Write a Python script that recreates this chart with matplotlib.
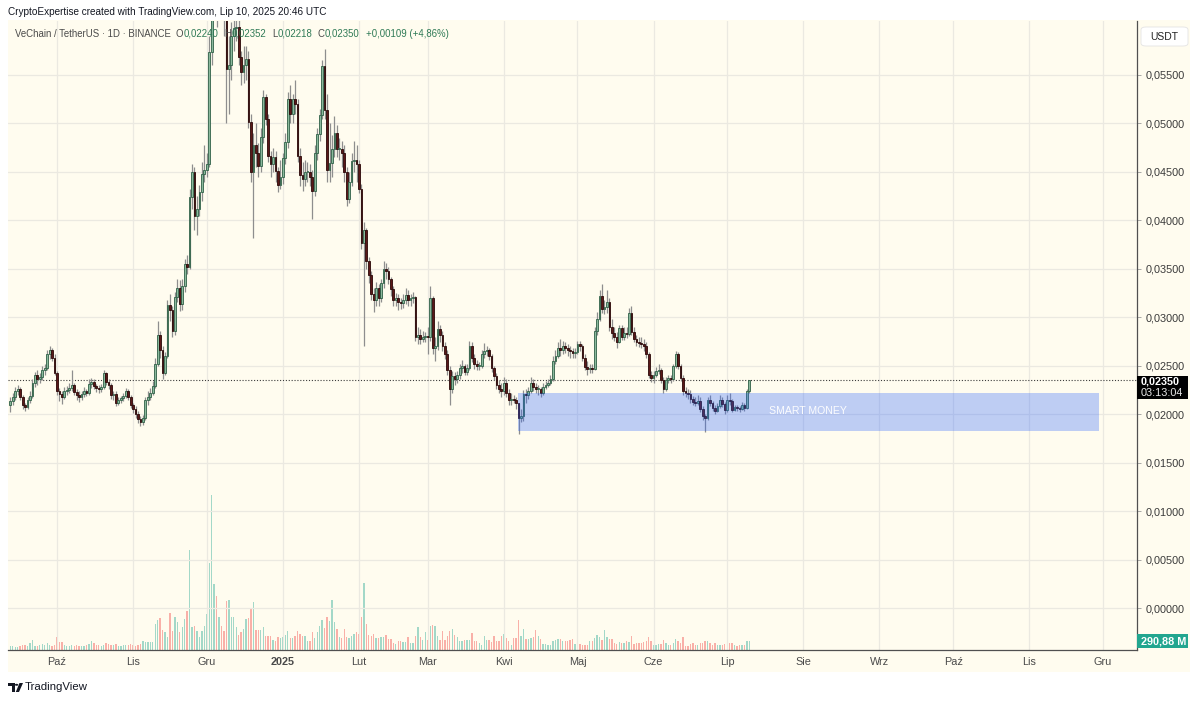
import datetime as dt
import matplotlib
matplotlib.use("Agg")
import matplotlib.pyplot as plt
import matplotlib.dates as mdates
from matplotlib.patches import Rectangle, FancyBboxPatch, Polygon, Circle

plt.rcParams['font.family'] = ['Liberation Sans', 'DejaVu Sans']

W, H = 1200, 701

# ---------------- data ----------------
start_date = dt.date(2024, 9, 12)
first_open = 0.0210

closes = [
    # Sep 12-30
    0.0214, 0.0218, 0.0224, 0.0226, 0.0218, 0.0209, 0.0207, 0.0215, 0.0219, 0.0232, 0.0240, 0.0236, 0.0238, 0.0246, 0.0248, 0.0262, 0.0266, 0.0258, 0.0243,
    # Oct
    0.0224, 0.0221, 0.0218, 0.0224, 0.0225, 0.0227, 0.0230, 0.0223, 0.0220, 0.0218, 0.0221, 0.0224, 0.0222, 0.0231, 0.0233, 0.0229, 0.0227, 0.0226, 0.0228, 0.0242, 0.0233, 0.0230, 0.0220, 0.0221, 0.0212, 0.0215, 0.0217, 0.0219, 0.0224, 0.0218, 0.0209,
    # Nov
    0.0205, 0.0200, 0.0195, 0.0192, 0.0196, 0.0215, 0.0218, 0.0222, 0.0229, 0.0252, 0.0282, 0.0266, 0.0243, 0.0260, 0.0313, 0.0308, 0.0286, 0.0321, 0.0330, 0.0314, 0.0332, 0.0355, 0.0352, 0.0424, 0.0450, 0.0404, 0.0412, 0.0429, 0.0448, 0.0452,
    # Dec
    0.0458, 0.0574, 0.0650, 0.0690, 0.0640, 0.0660, 0.0645, 0.0625, 0.0556, 0.0560, 0.0590, 0.0598, 0.0600, 0.0569, 0.0553, 0.0560, 0.0566, 0.0502, 0.0450, 0.0478, 0.0470, 0.0456, 0.0486, 0.0527, 0.0505, 0.0466, 0.0458, 0.0465, 0.0451, 0.0437, 0.0445,
    # Jan
    0.0464, 0.0481, 0.0525, 0.0510, 0.0525, 0.0520, 0.0466, 0.0447, 0.0443, 0.0450, 0.0450, 0.0445, 0.0430, 0.0470, 0.0489, 0.0509, 0.0559, 0.0514, 0.0452, 0.0459, 0.0474, 0.0490, 0.0474, 0.0474, 0.0470, 0.0450, 0.0422, 0.0440, 0.0461, 0.0462, 0.0458,
    # Feb
    0.0432, 0.0377, 0.0390, 0.0358, 0.0344, 0.0324, 0.0318, 0.0330, 0.0320, 0.0335, 0.0350, 0.0348, 0.0339, 0.0329, 0.0318, 0.0320, 0.0316, 0.0315, 0.0318, 0.0323, 0.0318, 0.0320, 0.0321, 0.0280, 0.0282, 0.0278, 0.0280, 0.0281,
    # Mar
    0.0280, 0.0320, 0.0268, 0.0270, 0.0288, 0.0282, 0.0270, 0.0262, 0.0246, 0.0226, 0.0239, 0.0236, 0.0240, 0.0248, 0.0250, 0.0244, 0.0248, 0.0270, 0.0258, 0.0252, 0.0250, 0.0250, 0.0262, 0.0265, 0.0266, 0.0260, 0.0248, 0.0239, 0.0230, 0.0226, 0.0224,
    # Apr
    0.0232, 0.0222, 0.0215, 0.0216, 0.0215, 0.0212, 0.0196, 0.0198, 0.0221, 0.0220, 0.0224, 0.0232, 0.0228, 0.0226, 0.0226, 0.0222, 0.0228, 0.0230, 0.0232, 0.0236, 0.0255, 0.0260, 0.0268, 0.0266, 0.0270, 0.0268, 0.0266, 0.0265, 0.0263, 0.0264,
    # May
    0.0272, 0.0270, 0.0258, 0.0249, 0.0247, 0.0248, 0.0247, 0.0286, 0.0298, 0.0322, 0.0309, 0.0311, 0.0316, 0.0290, 0.0284, 0.0280, 0.0275, 0.0289, 0.0280, 0.0284, 0.0283, 0.0304, 0.0285, 0.0278, 0.0274, 0.0273, 0.0272, 0.0270, 0.0262, 0.0240, 0.0237,
    # Jun
    0.0240, 0.0245, 0.0246, 0.0235, 0.0226, 0.0235, 0.0237, 0.0236, 0.0250, 0.0262, 0.0250, 0.0237, 0.0224, 0.0222, 0.0221, 0.0216, 0.0213, 0.0212, 0.0214, 0.0205, 0.0198, 0.0196, 0.0215, 0.0212, 0.0206, 0.0203, 0.0208, 0.0215, 0.0211, 0.0204,
    # Jul 1-10
    0.0215, 0.0214, 0.0204, 0.0207, 0.0206, 0.0205, 0.0209, 0.0206, 0.02241, 0.02350,
]

highs = [
    0.0218, 0.0222, 0.0228, 0.0230, 0.0228, 0.0220, 0.0212, 0.0218, 0.0224, 0.0236, 0.0244, 0.0246, 0.0242, 0.0250, 0.0252, 0.0266, 0.0270, 0.0268, 0.0262,
    0.0245, 0.0227, 0.0224, 0.0228, 0.0229, 0.0232, 0.0246, 0.0232, 0.0226, 0.0224, 0.0224, 0.0228, 0.0226, 0.0236, 0.0237, 0.0236, 0.0231, 0.0230, 0.0231, 0.0246, 0.0244, 0.0236, 0.0232, 0.0224, 0.0224, 0.0218, 0.0219, 0.0222, 0.0227, 0.0226, 0.0220,
    0.0212, 0.0208, 0.0203, 0.0198, 0.0199, 0.0218, 0.0224, 0.0227, 0.0234, 0.0258, 0.0296, 0.0286, 0.0270, 0.0264, 0.0318, 0.0324, 0.0312, 0.0326, 0.0340, 0.0338, 0.0340, 0.0360, 0.0364, 0.0432, 0.0458, 0.0455, 0.0425, 0.0436, 0.0460, 0.0478,
    0.0470, 0.0590, 0.0790, 0.0720, 0.0700, 0.0690, 0.0670, 0.0660, 0.0630, 0.0590, 0.0605, 0.0610, 0.0625, 0.0612, 0.0575, 0.0580, 0.0580, 0.0575, 0.0510, 0.0490, 0.0500, 0.0480, 0.0495, 0.0535, 0.0530, 0.0510, 0.0472, 0.0475, 0.0472, 0.0455, 0.0462,
    0.0470, 0.0490, 0.0532, 0.0540, 0.0530, 0.0545, 0.0525, 0.0475, 0.0460, 0.0462, 0.0460, 0.0458, 0.0452, 0.0478, 0.0495, 0.0515, 0.0565, 0.0577, 0.0530, 0.0500, 0.0488, 0.0508, 0.0498, 0.0485, 0.0482, 0.0478, 0.0455, 0.0450, 0.0470, 0.0482, 0.0478,
    0.0462, 0.0438, 0.0398, 0.0392, 0.0362, 0.0348, 0.0330, 0.0336, 0.0334, 0.0340, 0.0358, 0.0356, 0.0352, 0.0342, 0.0332, 0.0325, 0.0324, 0.0320, 0.0324, 0.0330, 0.0328, 0.0324, 0.0326, 0.0322, 0.0290, 0.0288, 0.0286, 0.0285,
    0.0290, 0.0332, 0.0322, 0.0280, 0.0296, 0.0292, 0.0286, 0.0275, 0.0266, 0.0250, 0.0245, 0.0244, 0.0245, 0.0252, 0.0256, 0.0252, 0.0252, 0.0276, 0.0275, 0.0262, 0.0256, 0.0254, 0.0266, 0.0273, 0.0270, 0.0268, 0.0262, 0.0250, 0.0242, 0.0235, 0.0232,
    0.0238, 0.0236, 0.0226, 0.0222, 0.0220, 0.0218, 0.0212, 0.0205, 0.0225, 0.0226, 0.0228, 0.0238, 0.0236, 0.0232, 0.0230, 0.0228, 0.0232, 0.0234, 0.0236, 0.0240, 0.0260, 0.0266, 0.0275, 0.0278, 0.0276, 0.0275, 0.0272, 0.0270, 0.0268, 0.0268,
    0.0276, 0.0276, 0.0272, 0.0262, 0.0255, 0.0252, 0.0252, 0.0290, 0.0305, 0.0328, 0.0334, 0.0318, 0.0328, 0.0320, 0.0298, 0.0290, 0.0285, 0.0292, 0.0292, 0.0290, 0.0290, 0.0310, 0.0312, 0.0290, 0.0282, 0.0280, 0.0280, 0.0278, 0.0275, 0.0264, 0.0245,
    0.0245, 0.0249, 0.0252, 0.0248, 0.0238, 0.0238, 0.0240, 0.0240, 0.0252, 0.0265, 0.0264, 0.0252, 0.0240, 0.0228, 0.0226, 0.0225, 0.0219, 0.0218, 0.0220, 0.0218, 0.0208, 0.0200, 0.0218, 0.0220, 0.0214, 0.0210, 0.0212, 0.0220, 0.0218, 0.0213,
    0.0220, 0.0222, 0.0216, 0.0210, 0.0210, 0.0208, 0.0213, 0.0212, 0.0226, 0.02352,
]

lows = [
    0.0202, 0.0210, 0.0215, 0.0220, 0.0215, 0.0205, 0.0203, 0.0205, 0.0212, 0.0217, 0.0228, 0.0230, 0.0232, 0.0235, 0.0240, 0.0246, 0.0257, 0.0255, 0.0240,
    0.0220, 0.0214, 0.0211, 0.0216, 0.0220, 0.0222, 0.0224, 0.0220, 0.0215, 0.0213, 0.0215, 0.0218, 0.0219, 0.0220, 0.0227, 0.0226, 0.0223, 0.0222, 0.0223, 0.0226, 0.0230, 0.0226, 0.0216, 0.0215, 0.0208, 0.0209, 0.0212, 0.0214, 0.0217, 0.0215, 0.0206,
    0.0201, 0.0196, 0.0191, 0.0188, 0.0189, 0.0194, 0.0210, 0.0215, 0.0220, 0.0227, 0.0250, 0.0258, 0.0236, 0.0240, 0.0258, 0.0296, 0.0280, 0.0282, 0.0316, 0.0306, 0.0308, 0.0326, 0.0345, 0.0350, 0.0412, 0.0390, 0.0385, 0.0405, 0.0420, 0.0440,
    0.0445, 0.0455, 0.0560, 0.0610, 0.0600, 0.0610, 0.0620, 0.0590, 0.0500, 0.0510, 0.0545, 0.0575, 0.0585, 0.0560, 0.0540, 0.0542, 0.0545, 0.0495, 0.0440, 0.0382, 0.0455, 0.0445, 0.0450, 0.0480, 0.0498, 0.0460, 0.0445, 0.0450, 0.0440, 0.0429, 0.0432,
    0.0438, 0.0458, 0.0475, 0.0500, 0.0500, 0.0510, 0.0460, 0.0435, 0.0430, 0.0435, 0.0440, 0.0435, 0.0401, 0.0425, 0.0462, 0.0482, 0.0505, 0.0505, 0.0440, 0.0440, 0.0445, 0.0465, 0.0465, 0.0462, 0.0455, 0.0440, 0.0415, 0.0418, 0.0435, 0.0450, 0.0440,
    0.0428, 0.0370, 0.0270, 0.0350, 0.0335, 0.0318, 0.0305, 0.0312, 0.0312, 0.0316, 0.0330, 0.0340, 0.0334, 0.0322, 0.0312, 0.0312, 0.0308, 0.0309, 0.0310, 0.0314, 0.0312, 0.0312, 0.0315, 0.0276, 0.0272, 0.0272, 0.0274, 0.0275,
    0.0262, 0.0276, 0.0262, 0.0255, 0.0266, 0.0275, 0.0265, 0.0257, 0.0240, 0.0210, 0.0222, 0.0230, 0.0232, 0.0236, 0.0243, 0.0240, 0.0240, 0.0246, 0.0254, 0.0247, 0.0246, 0.0246, 0.0248, 0.0258, 0.0260, 0.0256, 0.0244, 0.0235, 0.0226, 0.0222, 0.0218,
    0.0220, 0.0218, 0.0210, 0.0210, 0.0212, 0.0205, 0.0180, 0.0192, 0.0193, 0.0212, 0.0216, 0.0222, 0.0224, 0.0222, 0.0220, 0.0218, 0.0220, 0.0226, 0.0228, 0.0230, 0.0234, 0.0252, 0.0258, 0.0260, 0.0262, 0.0263, 0.0260, 0.0258, 0.0258, 0.0258,
    0.0262, 0.0265, 0.0255, 0.0246, 0.0240, 0.0243, 0.0243, 0.0246, 0.0282, 0.0296, 0.0304, 0.0303, 0.0304, 0.0286, 0.0278, 0.0276, 0.0268, 0.0273, 0.0277, 0.0277, 0.0279, 0.0281, 0.0282, 0.0274, 0.0270, 0.0269, 0.0268, 0.0265, 0.0258, 0.0237, 0.0233,
    0.0232, 0.0238, 0.0241, 0.0232, 0.0222, 0.0224, 0.0232, 0.0232, 0.0234, 0.0248, 0.0247, 0.0234, 0.0220, 0.0218, 0.0216, 0.0212, 0.0210, 0.0208, 0.0209, 0.0202, 0.0194, 0.0182, 0.0194, 0.0208, 0.0203, 0.0200, 0.0202, 0.0206, 0.0207, 0.0200,
    0.0202, 0.0210, 0.0202, 0.0203, 0.0203, 0.0202, 0.0204, 0.0203, 0.0205, 0.02218,
]

# daily volume in millions of VET
volumes_m = [
    132, 132, 99, 99, 132, 165, 165, 132, 231, 330, 132, 132, 165, 198, 165, 231, 165, 132, 165,
    429, 264, 264, 165, 132, 132, 165, 132, 165, 132, 132, 132, 165, 198, 297, 231, 165, 165, 132, 165, 231, 198, 165, 165, 198, 132, 132, 165, 165, 165, 198,
    165, 132, 165, 198, 297, 264, 264, 264, 264, 858, 990, 1056, 660, 594, 429, 1221, 627, 1089, 924, 594, 759, 1023, 1287, 3300, 759, 792, 627, 429, 627, 792,
    1188, 2871, 5115, 2178, 1782, 1089, 792, 627, 1617, 1650, 1089, 1089, 759, 495, 594, 693, 1023, 1056, 1353, 1584, 660, 660, 660, 759, 462, 462, 462, 330, 297, 429, 396,
    429, 495, 627, 396, 396, 462, 627, 528, 462, 462, 297, 297, 594, 396, 594, 792, 990, 726, 1089, 957, 1650, 924, 693, 429, 396, 693, 429, 396, 462, 528, 594,
    528, 1089, 2211, 858, 495, 462, 528, 396, 396, 429, 429, 495, 363, 363, 231, 198, 297, 297, 264, 264, 429, 231, 231, 462, 759, 429, 330, 594,
    330, 792, 825, 792, 462, 330, 627, 330, 462, 627, 693, 495, 429, 297, 297, 330, 330, 330, 561, 297, 297, 231, 165, 462, 330, 330, 264, 462, 297, 297, 462,
    528, 396, 297, 165, 396, 396, 990, 462, 693, 363, 363, 396, 429, 660, 462, 363, 198, 198, 165, 165, 297, 330, 363, 363, 297, 297, 297, 330, 363, 198,
    198, 198, 165, 165, 165, 297, 297, 396, 495, 429, 330, 660, 429, 363, 363, 231, 198, 264, 231, 231, 297, 264, 462, 198, 231, 231, 231, 264, 297, 429, 297,
    165, 165, 198, 198, 330, 231, 165, 165, 231, 363, 297, 231, 429, 132, 132, 198, 231, 165, 165, 231, 231, 297, 297, 231, 165, 231, 165, 165, 165, 198,
    198, 231, 231, 165, 132, 165, 165, 165, 297, 290.88,
]

tick_dates = ["2024-10-01", "2024-11-01", "2024-12-01", "2025-01-01", "2025-02-01", "2025-03-01",
              "2025-04-01", "2025-05-01", "2025-06-01", "2025-07-01", "2025-08-01", "2025-09-01",
              "2025-10-01", "2025-11-01", "2025-12-01"]
tick_labels = ["Paź", "Lis", "Gru", "2025", "Lut", "Mar", "Kwi", "Maj", "Cze", "Lip", "Sie", "Wrz",
               "Paź", "Lis", "Gru"]
price_ticks = [0.0, 0.005, 0.010, 0.015, 0.020, 0.025, 0.030, 0.035, 0.040, 0.045, 0.050, 0.055]

view_start = dt.datetime(2024, 9, 11, 1, 0)
view_end = dt.datetime(2025, 12, 14, 21, 36)
price_min, price_max = -0.00433, 0.06057
volume_top_m = 20757

last_price = 0.02350
last_price_label = "0,02350"
countdown_label = "03:13:04"
volume_label = "290,88 M"

zone_start = dt.datetime(2025, 4, 6, 22, 0)
zone_end = dt.datetime(2025, 11, 29, 10, 0)
zone_top = 0.02219
zone_bottom = 0.01826
zone_label = "SMART MONEY"
zone_label_date = dt.datetime(2025, 8, 3)
zone_label_price = 0.02033

header_text = "CryptoExpertise created with TradingView.com, Lip 10, 2025 20:46 UTC"
symbol_text = "VeChain / TetherUS · 1D · BINANCE"
ohlc_pairs = [("O", "0,02240"), ("H", "0,02352"), ("L", "0,02218"), ("C", "0,02350")]
change_text = "+0,00109 (+4,86%)"

# ---------------- styling ----------------
CREAM = "#fffcef"
GRID = "#ebe9e1"
UP_FILL, UP_EDGE = "#8bb99d", "#2f6047"
DN_FILL, DN_EDGE = "#5a1818", "#2a0707"
WICK = "#8e8e8e"
VOL_UP, VOL_DN = "#a3d8c8", "#f9b0a8"
TEXT = "#3a3a3a"

n = min(len(closes), len(highs), len(lows), len(volumes_m))
dates = [start_date + dt.timedelta(days=i) for i in range(n)]
xs = mdates.date2num(dates)
opens = [first_open] + closes[:n - 1]

fig = plt.figure(figsize=(W / 100, H / 100), dpi=100)
fig.patch.set_facecolor("white")


def fx(px):
    return px / W


def fy(py):
    return 1 - py / H


# container background
fig.add_artist(Rectangle((fx(8), fy(672)), fx(1190) - fx(8), fy(20) - fy(672),
                         transform=fig.transFigure, facecolor=CREAM, edgecolor="none", zorder=-5))

rect = [fx(8), fy(650), fx(1137) - fx(8), fy(21) - fy(650)]
ax = fig.add_axes(rect)
ax2 = ax.twinx()
ax.set_zorder(2)
ax2.set_zorder(1)
ax.patch.set_visible(False)
ax2.patch.set_visible(False)

# volume
vcolors = [VOL_UP if closes[i] >= opens[i] else VOL_DN for i in range(n)]
ax2.bar(xs, volumes_m[:n], width=0.55, color=vcolors, linewidth=0)
ax2.set_ylim(0, volume_top_m)
ax2.set_yticks([])
for s in ax2.spines.values():
    s.set_visible(False)

# candles
ax.vlines(xs, lows[:n], highs[:n], colors=WICK, linewidth=0.9, zorder=3)
for i in range(n):
    o, c = opens[i], closes[i]
    up = c >= o
    bottom = min(o, c)
    h = max(abs(c - o), 0.00006)
    ax.bar(xs[i], h, bottom=bottom, width=0.72,
           color=UP_FILL if up else DN_FILL,
           edgecolor=UP_EDGE if up else DN_EDGE, linewidth=0.6, zorder=4)

# current price dotted line
ax.axhline(last_price, color="#3c3c3c", linestyle=(0, (1, 1.6)), linewidth=0.8, zorder=2)

# smart money zone
zx0, zx1 = mdates.date2num(zone_start), mdates.date2num(zone_end)
ax.add_patch(Rectangle((zx0, zone_bottom), zx1 - zx0, zone_top - zone_bottom,
                       facecolor="#2962ff", alpha=0.3, edgecolor="none", zorder=5))
ax.text(mdates.date2num(zone_label_date), zone_label_price, zone_label, color="white",
        fontsize=7.6, ha="center", va="center", zorder=6, alpha=0.95)

# axes config
ax.set_xlim(mdates.date2num(view_start), mdates.date2num(view_end))
ax2.set_xlim(mdates.date2num(view_start), mdates.date2num(view_end))
ax.set_ylim(price_min, price_max)
ax.set_xticks(mdates.date2num([dt.datetime.strptime(d, "%Y-%m-%d") for d in tick_dates]))
ax.set_xticklabels(tick_labels)
ax.get_xticklabels()[3].set_fontweight("bold")
ax.set_yticks(price_ticks)
ax.set_yticklabels([f"{v:.5f}".replace(".", ",") for v in price_ticks])
ax.yaxis.tick_right()
ax.yaxis.set_label_position("right")
ax.tick_params(axis="y", length=3, width=0.6, color="#9a9a9a", pad=3, labelsize=7.8, labelcolor=TEXT)
ax.tick_params(axis="x", length=0, pad=5, labelsize=7.8, labelcolor="#4a4a4a")
ax.set_axisbelow(True)
ax.grid(True, color=GRID, linewidth=0.9)
for k in ("top", "left"):
    ax.spines[k].set_visible(False)
for k in ("right", "bottom"):
    ax.spines[k].set_color("#505050")
    ax.spines[k].set_linewidth(0.9)

# price-scale boxes
fig.add_artist(FancyBboxPatch((fx(1141), fy(46)), fx(1188) - fx(1141), fy(27) - fy(46),
                              boxstyle="round,pad=0,rounding_size=0.004", transform=fig.transFigure,
                              facecolor="white", edgecolor="#e3e3e3", linewidth=0.6, zorder=5))
fig.text(fx(1164.5), fy(37), "USDT", fontsize=7.5, color="#222222", ha="center", va="center", zorder=6)

fig.add_artist(Rectangle((fx(1137), fy(399)), fx(1188) - fx(1137), fy(376) - fy(399),
                         transform=fig.transFigure, facecolor="#000000", edgecolor="none", zorder=5))
fig.text(fx(1141), fy(382), last_price_label, fontsize=7.8, color="white", fontweight="bold",
         ha="left", va="center", zorder=6)
fig.text(fx(1141), fy(393), countdown_label, fontsize=7.8, color="#e8e8e8",
         ha="left", va="center", zorder=6)

fig.add_artist(Rectangle((fx(1137), fy(648)), fx(1188) - fx(1137), fy(634) - fy(648),
                         transform=fig.transFigure, facecolor="#22a68f", edgecolor="none", zorder=5))
fig.text(fx(1141), fy(641), volume_label, fontsize=7.8, color="white", fontweight="bold",
         ha="left", va="center", zorder=6)

# header
fig.text(fx(8), fy(12), header_text, fontsize=7.2, color="#131722", ha="left", va="center")

renderer = fig.canvas.get_renderer()


def put(xpx, ypx, s, color, size=6.9, weight="normal"):
    t = fig.text(fx(xpx), fy(ypx), s, fontsize=size, color=color, ha="left", va="center",
                 fontweight=weight, zorder=8)
    return xpx + t.get_window_extent(renderer=renderer).width


x = put(15, 34, symbol_text, "#4a4a4a")
x += 5
for lab, val in ohlc_pairs:
    x = put(x, 34, lab, "#4a4a4a")
    x = put(x, 34, val, "#2f7a56")
    x += 6
put(x, 34, change_text, "#2f7a56")

# footer logo
fig.add_artist(Polygon([(fx(8), fy(683)), (fx(14.5), fy(683)), (fx(14.5), fy(692)),
                        (fx(11.5), fy(692)), (fx(11.5), fy(686)), (fx(8), fy(686))],
                       closed=True, transform=fig.transFigure, facecolor="#131722", edgecolor="none"))
fig.add_artist(Circle((fx(16.6), fy(684.8)), 1.7 / W, transform=fig.transFigure,
                      facecolor="#131722", edgecolor="none"))
fig.add_artist(Polygon([(fx(19.5), fy(683)), (fx(23), fy(683)), (fx(19), fy(692)), (fx(15.8), fy(692))],
                       closed=True, transform=fig.transFigure, facecolor="#131722", edgecolor="none"))
fig.text(fx(25), fy(687.5), "TradingView", fontsize=8.2, color="#131722", ha="left", va="center")

fig.savefig("out.png", dpi=100, facecolor="white")
